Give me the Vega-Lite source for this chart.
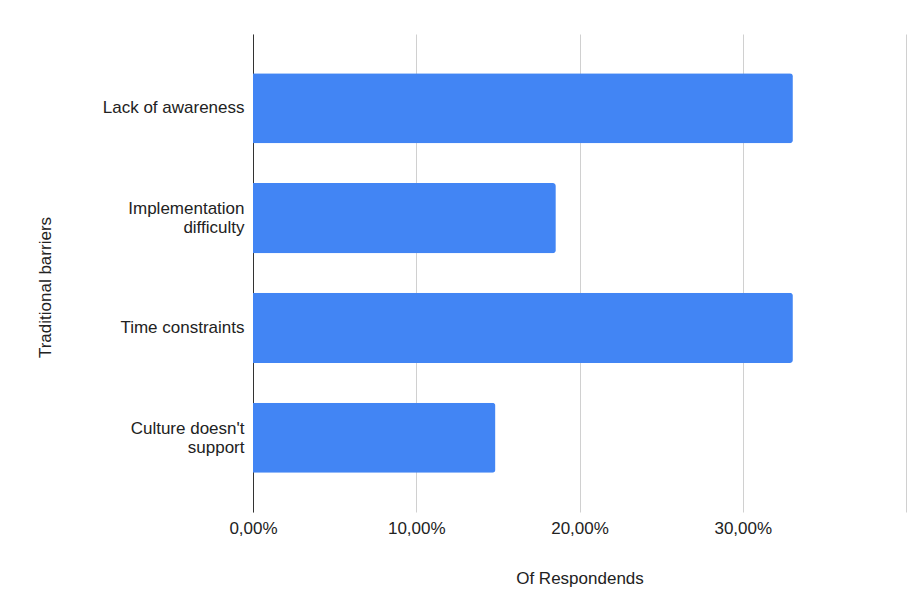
{
  "$schema": "https://vega.github.io/schema/vega-lite/v6.json",
  "autosize": "none",
  "width": 653,
  "height": 478,
  "padding": {"left": 253, "top": 34, "right": 14, "bottom": 99},
  "background": "#ffffff",
  "config": {
    "view": {"stroke": null},
    "font": "Liberation Sans"
  },
  "data": {
    "values": [
      {"barrier": "Lack of awareness", "share": 0.3307},
      {"barrier": "Implementation difficulty", "share": 0.1855},
      {"barrier": "Time constraints", "share": 0.3307},
      {"barrier": "Culture doesn't support", "share": 0.1485}
    ]
  },
  "mark": {"type": "bar", "color": "#4285f4", "cornerRadiusEnd": 3},
  "encoding": {
    "y": {
      "field": "barrier",
      "type": "nominal",
      "sort": null,
      "scale": {"paddingInner": 0.362, "paddingOuter": 0.358},
      "axis": {
        "title": "Traditional barriers",
        "titleFont": "Liberation Sans",
        "titleFontSize": 17,
        "titleFontWeight": "normal",
        "titleColor": "#222222",
        "titleAngle": -90,
        "titleAlign": "center",
        "titleBaseline": "alphabetic",
        "titleX": -203,
        "titleY": 253,
        "labelFont": "Liberation Sans",
        "labelFontSize": 17,
        "labelColor": "#222222",
        "labelPadding": 9,
        "labelLineHeight": 19,
        "labelLimit": 300,
        "labelOffset": {"condition": {"test": "datum.value == 'Implementation difficulty' || datum.value == \"Culture doesn't support\"", "value": -9}, "value": 0},
        "labelExpr": "datum.label == 'Implementation difficulty' ? ['Implementation', 'difficulty'] : datum.label == \"Culture doesn't support\" ? ['Culture doesn\\'t', 'support'] : datum.label",
        "ticks": false,
        "domain": true,
        "domainColor": "#333333",
        "domainWidth": 1,
        "grid": false
      }
    },
    "x": {
      "field": "share",
      "type": "quantitative",
      "scale": {"domain": [0, 0.4], "nice": false},
      "axis": {
        "title": "Of Respondends",
        "titleFont": "Liberation Sans",
        "titleFontSize": 17,
        "titleFontWeight": "normal",
        "titleColor": "#222222",
        "titleBaseline": "alphabetic",
        "titleY": 71,
        "values": [0, 0.1, 0.2, 0.3, 0.4],
        "labelExpr": "datum.value >= 0.39 ? '' : replace(format(datum.value, '.2%'), '.', ',')",
        "labelFont": "Liberation Sans",
        "labelFontSize": 17,
        "labelColor": "#222222",
        "labelPadding": 8,
        "labelFlush": false,
        "labelOverlap": false,
        "ticks": false,
        "domain": false,
        "grid": true,
        "gridColor": "#d0d0d0",
        "gridWidth": 1
      }
    }
  }
}
